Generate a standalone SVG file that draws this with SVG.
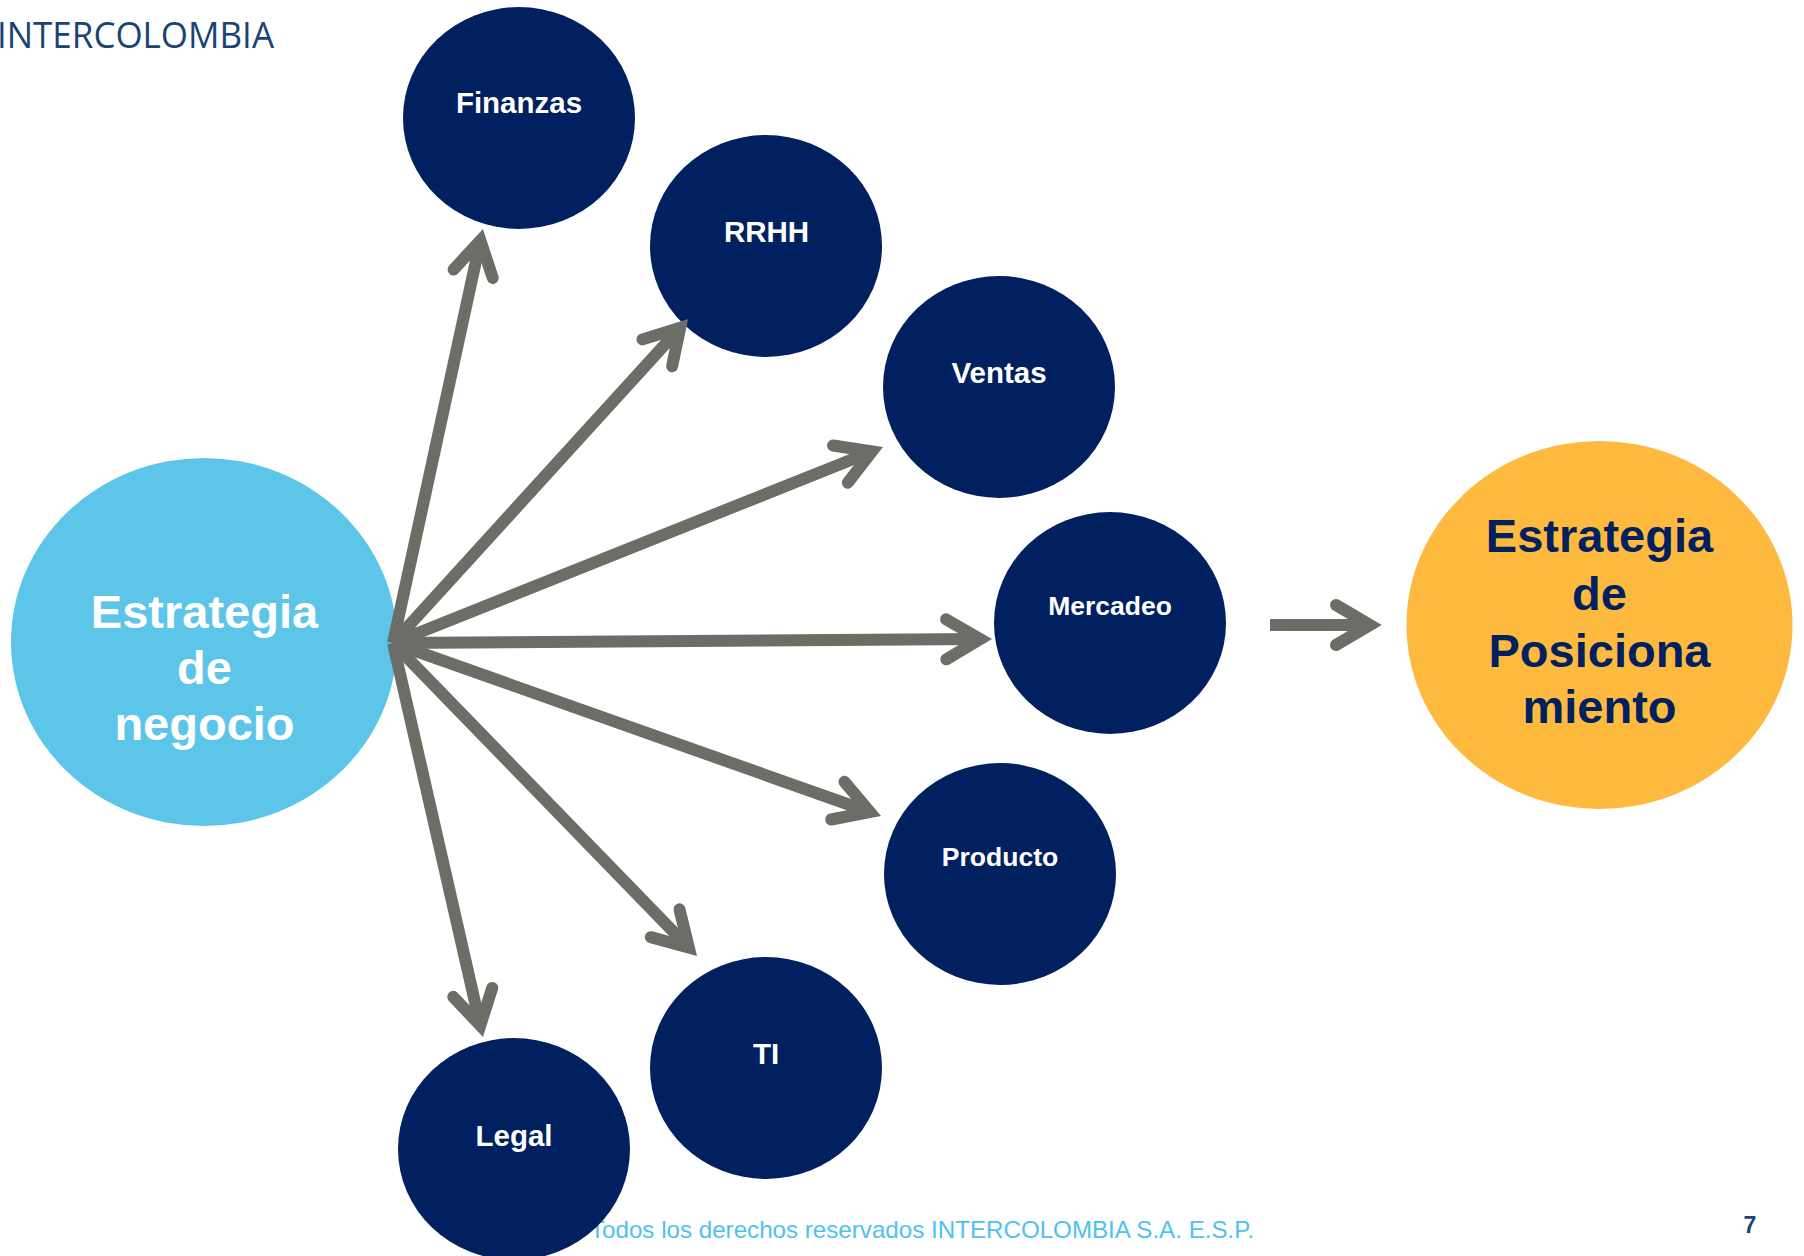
<svg xmlns="http://www.w3.org/2000/svg" width="1804" height="1256" viewBox="0 0 1804 1256">
<style>
.navy{fill:#00205F}
.lbl{font-family:"Liberation Sans",Arial,sans-serif;font-weight:bold;fill:#ffffff;text-anchor:middle}
.big{font-family:"Liberation Sans",Arial,sans-serif;font-weight:bold;font-size:47px;text-anchor:middle}
.conn{stroke:#6B6E66;stroke-width:12;fill:none;stroke-linecap:butt}
</style>
<defs>
<marker id="ah" markerUnits="userSpaceOnUse" orient="auto" refX="0" refY="0" markerWidth="80" markerHeight="80" viewBox="-60 -40 80 80" overflow="visible">
<path d="M-34,-20 L0,0 L-34,20" fill="none" stroke="#6B6E66" stroke-width="12" stroke-linecap="round" stroke-linejoin="miter"/>
</marker>
</defs>
<rect width="1804" height="1256" fill="#ffffff"/>
<text x="-3" y="48" font-family="'Open Sans','Noto Sans',sans-serif" font-size="36" fill="#1A4373" textLength="277" lengthAdjust="spacingAndGlyphs">INTERCOLOMBIA</text>
<text x="590" y="1238" font-family="'Liberation Sans',Arial,sans-serif" font-size="24" fill="#4FC2EC" textLength="664" lengthAdjust="spacingAndGlyphs">Todos los derechos reservados INTERCOLOMBIA S.A. E.S.P.</text>
<text x="1750" y="1233" font-family="'Liberation Sans',Arial,sans-serif" font-size="23" font-weight="bold" fill="#17447A" text-anchor="middle">7</text>
<g id="negocio">
<ellipse cx="204" cy="642" rx="193" ry="184" fill="#5DC5E8"/>
<text class="big" fill="#ffffff"><tspan x="204.5" y="628">Estrategia</tspan><tspan x="204.5" y="684">de</tspan><tspan x="204.5" y="740">negocio</tspan></text>
</g>
<g id="posicionamiento">
<ellipse cx="1599.5" cy="625" rx="193" ry="184" fill="#FDBA3E"/>
<text class="big" fill="#002060"><tspan x="1599.5" y="552">Estrategia</tspan><tspan x="1599.5" y="610">de</tspan><tspan x="1599.5" y="667">Posiciona</tspan><tspan x="1599.5" y="723">miento</tspan></text>
</g>
<g id="finanzas">
<ellipse class="navy" cx="519" cy="118" rx="116" ry="111"/>
<text class="lbl" x="519" y="113" font-size="29.5">Finanzas</text>
</g>
<g id="rrhh">
<ellipse class="navy" cx="766" cy="246" rx="116" ry="111"/>
<text class="lbl" x="766.5" y="242" font-size="29.5">RRHH</text>
</g>
<g id="ventas">
<ellipse class="navy" cx="999" cy="387" rx="116" ry="111"/>
<text class="lbl" x="999" y="383" font-size="29.5">Ventas</text>
</g>
<g id="mercadeo">
<ellipse class="navy" cx="1110" cy="623" rx="116" ry="111"/>
<text class="lbl" x="1110" y="615" font-size="26.5">Mercadeo</text>
</g>
<g id="producto">
<ellipse class="navy" cx="1000" cy="874" rx="116" ry="111"/>
<text class="lbl" x="1000" y="866" font-size="26.5">Producto</text>
</g>
<g id="ti">
<ellipse class="navy" cx="766" cy="1068" rx="116" ry="111"/>
<text class="lbl" x="766" y="1064" font-size="29.5">TI</text>
</g>
<g id="legal">
<ellipse class="navy" cx="514" cy="1149" rx="116" ry="111"/>
<text class="lbl" x="514" y="1146" font-size="29.5">Legal</text>
</g>
<g id="connectors">
<path class="conn" marker-end="url(#ah)" d="M393,643 L480.4,240.5"/>
<path class="conn" marker-end="url(#ah)" d="M393,643 L680.2,327.7"/>
<path class="conn" marker-end="url(#ah)" d="M393,643 L872.0,451.5"/>
<path class="conn" marker-end="url(#ah)" d="M393,643 L980.2,639.1"/>
<path class="conn" marker-end="url(#ah)" d="M393,643 L869.9,812.0"/>
<path class="conn" marker-end="url(#ah)" d="M393,643 L688.8,947.6"/>
<path class="conn" marker-end="url(#ah)" d="M393,643 L480.3,1025.5"/>
<path class="conn" marker-end="url(#ah)" d="M1270,625 L1370,625"/>
</g>
</svg>
